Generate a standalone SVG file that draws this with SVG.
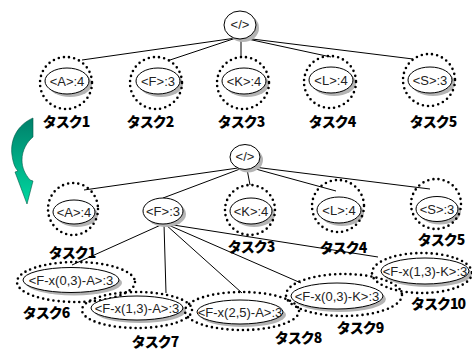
<svg xmlns="http://www.w3.org/2000/svg" width="472" height="352" viewBox="0 0 472 352">
<style>
.sh{fill:#b4b4b4}
.nd{fill:#fff;stroke:#000;stroke-width:1}
.dot{fill:none;stroke:#000;stroke-width:2.6;stroke-dasharray:0 5.2;stroke-linecap:round}
.t{font-family:"Liberation Sans",Arial,sans-serif;font-size:13px;fill:#222;text-anchor:middle}
.lb{font-family:"Noto Sans CJK JP","Noto Sans",sans-serif;font-weight:900;font-size:14px;letter-spacing:-1px;fill:#000;text-anchor:middle}
.e{stroke:#000;stroke-width:1;fill:none}
</style>
<defs>
<linearGradient id="ag" x1="0" y1="0" x2="0" y2="1">
<stop offset="0" stop-color="#00806a"/>
<stop offset="1" stop-color="#00d8a0"/>
</linearGradient>
</defs>
<g id="connectors">
<line class="e" x1="236" y1="38" x2="82" y2="60"/>
<line class="e" x1="236" y1="38" x2="170" y2="60"/>
<line class="e" x1="241" y1="39" x2="241" y2="57"/>
<line class="e" x1="243" y1="38" x2="331" y2="57"/>
<line class="e" x1="244" y1="38" x2="413" y2="59"/>
<line class="e" x1="238" y1="168" x2="84" y2="190"/>
<line class="e" x1="240" y1="169" x2="163" y2="198"/>
<line class="e" x1="247" y1="169" x2="250" y2="185"/>
<line class="e" x1="252" y1="168" x2="336" y2="191"/>
<line class="e" x1="254" y1="167" x2="430" y2="189"/>
<line class="e" x1="163" y1="224" x2="72" y2="265"/>
<line class="e" x1="164" y1="224" x2="166" y2="293"/>
<line class="e" x1="165" y1="224" x2="242" y2="293"/>
<line class="e" x1="166" y1="224" x2="301" y2="283"/>
<line class="e" x1="167" y1="224" x2="378" y2="257"/>
</g>
<g id="arrow">
<path d="M33,118 C17,125 10,140 12,155 C13,163 15,168 18,171 L15,172 L27,204 L33,181 L30,180 C25,174 22,168 22,160 C22,150 27,142 33,137 Z" fill="url(#ag)" stroke="#005a46" stroke-width="0.6"/>
</g>
<g id="root1">
<ellipse class="sh" cx="243" cy="28" rx="16" ry="14"/>
<ellipse class="nd" cx="240" cy="25" rx="16" ry="14"/>
<text class="t" x="240" y="29" font-size="11">&lt;/&gt;</text>
</g>
<g id="t1-A">
<ellipse class="sh" cx="70" cy="84" rx="22" ry="13"/>
<ellipse class="nd" cx="67" cy="81" rx="22" ry="13"/>
<text class="t" x="67" y="86">&lt;A&gt;:4</text>
<circle class="dot" cx="66" cy="83" r="26"/>
<text class="lb" x="66" y="127">タスク1</text>
</g>
<g id="t1-F">
<ellipse class="sh" cx="161" cy="84" rx="22" ry="13"/>
<ellipse class="nd" cx="158" cy="81" rx="22" ry="13"/>
<text class="t" x="158" y="86">&lt;F&gt;:3</text>
<circle class="dot" cx="156" cy="83" r="26"/>
<text class="lb" x="150" y="127">タスク2</text>
</g>
<g id="t1-K">
<ellipse class="sh" cx="247" cy="84" rx="22" ry="13"/>
<ellipse class="nd" cx="244" cy="81" rx="22" ry="13"/>
<text class="t" x="244" y="86">&lt;K&gt;:4</text>
<circle class="dot" cx="243" cy="83" r="26"/>
<text class="lb" x="241" y="127">タスク3</text>
</g>
<g id="t1-L">
<ellipse class="sh" cx="334" cy="83" rx="22" ry="13"/>
<ellipse class="nd" cx="331" cy="80" rx="22" ry="13"/>
<text class="t" x="331" y="85">&lt;L&gt;:4</text>
<circle class="dot" cx="330" cy="82" r="26"/>
<text class="lb" x="332" y="127">タスク4</text>
</g>
<g id="t1-S">
<ellipse class="sh" cx="433" cy="83" rx="22" ry="13"/>
<ellipse class="nd" cx="430" cy="80" rx="22" ry="13"/>
<text class="t" x="430" y="85">&lt;S&gt;:3</text>
<circle class="dot" cx="429" cy="80" r="26"/>
<text class="lb" x="433" y="127">タスク5</text>
</g>
<g id="root2">
<ellipse class="sh" cx="248" cy="160" rx="15" ry="12.5"/>
<ellipse class="nd" cx="245" cy="157" rx="15" ry="12.5"/>
<text class="t" x="245" y="161" font-size="11">&lt;/&gt;</text>
</g>
<g id="t2-A">
<ellipse class="sh" cx="77" cy="215" rx="21" ry="12"/>
<ellipse class="nd" cx="74" cy="212" rx="21" ry="12"/>
<text class="t" x="74" y="217">&lt;A&gt;:4</text>
<ellipse class="dot" cx="73" cy="209" rx="25" ry="26"/>
<text class="lb" x="72" y="258">タスク1</text>
</g>
<g id="t2-F">
<ellipse class="sh" cx="166" cy="214" rx="20" ry="13"/>
<ellipse class="nd" cx="163" cy="211" rx="20" ry="13"/>
<text class="t" x="163" y="216">&lt;F&gt;:3</text>
</g>
<g id="t2-K">
<ellipse class="sh" cx="254" cy="214" rx="21" ry="13"/>
<ellipse class="nd" cx="251" cy="211" rx="21" ry="13"/>
<text class="t" x="251" y="216">&lt;K&gt;:4</text>
<circle class="dot" cx="250" cy="210" r="25"/>
<text class="lb" x="251" y="252">タスク3</text>
</g>
<g id="t2-L">
<ellipse class="sh" cx="342" cy="213" rx="22" ry="13"/>
<ellipse class="nd" cx="339" cy="210" rx="22" ry="13"/>
<text class="t" x="339" y="215">&lt;L&gt;:4</text>
<circle class="dot" cx="338" cy="206" r="26"/>
<text class="lb" x="343" y="253">タスク4</text>
</g>
<g id="t2-S">
<ellipse class="sh" cx="440" cy="212" rx="21" ry="12.5"/>
<ellipse class="nd" cx="437" cy="209" rx="21" ry="12.5"/>
<text class="t" x="437" y="214">&lt;S&gt;:3</text>
<circle class="dot" cx="436" cy="204" r="25"/>
<text class="lb" x="441" y="245">タスク5</text>
</g>
<g id="t6">
<ellipse class="sh" cx="74" cy="283" rx="48" ry="12.5"/>
<ellipse class="nd" cx="71" cy="280" rx="48" ry="12.5"/>
<text class="t" x="71" y="285">&lt;F-x(0,3)-A&gt;:3</text>
<ellipse class="dot" cx="76" cy="282" rx="59" ry="20"/>
<text class="lb" x="46" y="318">タスク6</text>
</g>
<g id="t7">
<ellipse class="sh" cx="140" cy="311" rx="46" ry="12"/>
<ellipse class="nd" cx="137" cy="308" rx="46" ry="12"/>
<text class="t" x="137" y="313">&lt;F-x(1,3)-A&gt;:3</text>
<ellipse class="dot" cx="137" cy="310" rx="55" ry="18"/>
<text class="lb" x="155" y="347">タスク7</text>
</g>
<g id="t8">
<ellipse class="sh" cx="243" cy="315" rx="43" ry="12"/>
<ellipse class="nd" cx="240" cy="312" rx="43" ry="12"/>
<text class="t" x="240" y="317">&lt;F-x(2,5)-A&gt;:3</text>
<ellipse class="dot" cx="242" cy="311" rx="57" ry="19"/>
<text class="lb" x="298" y="343">タスク8</text>
</g>
<g id="t9">
<ellipse class="sh" cx="340" cy="299" rx="46" ry="13"/>
<ellipse class="nd" cx="337" cy="296" rx="46" ry="13"/>
<text class="t" x="337" y="301">&lt;F-x(0,3)-K&gt;:3</text>
<ellipse class="dot" cx="344" cy="295" rx="58" ry="21"/>
<text class="lb" x="360" y="333">タスク9</text>
</g>
<g id="t10">
<ellipse class="sh" cx="428" cy="274" rx="44" ry="13"/>
<ellipse class="nd" cx="425" cy="271" rx="44" ry="13"/>
<text class="t" x="425" y="276">&lt;F-x(1,3)-K&gt;:3</text>
<ellipse class="dot" cx="422" cy="273" rx="50" ry="20"/>
<text class="lb" x="438" y="309">タスク10</text>
</g>
</svg>
